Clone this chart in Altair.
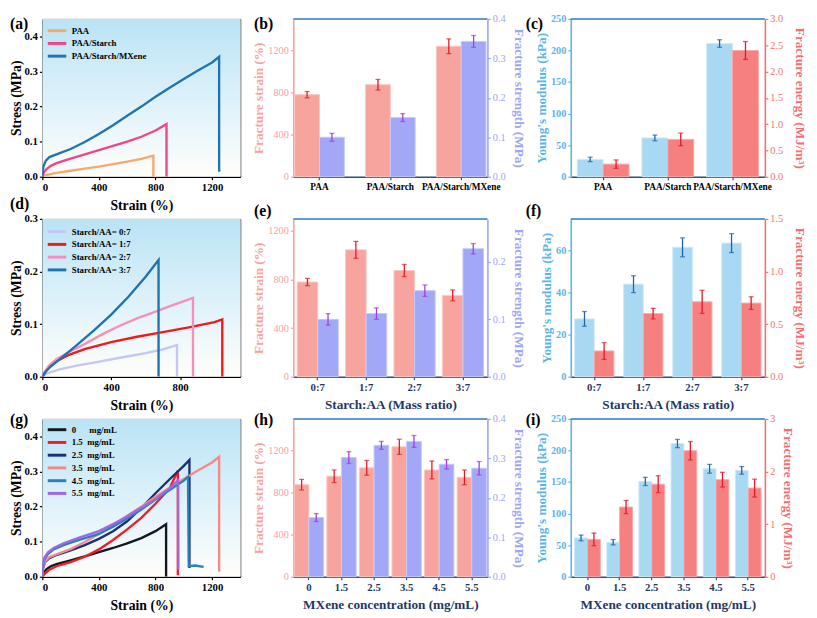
import altair as alt
import pandas as pd

SERIF = "Liberation Serif, Times New Roman, serif"

# ---------------- (a) stress-strain curves ----------------
A_NAMES = ["PAA", "PAA/Starch", "PAA/Starch/MXene"]
A_COLORS = ["#F5A96C", "#EF4688", "#2274B0"]
A_PAA_X = [0, 20, 50, 100, 200, 300, 400, 500, 600, 700, 785, 785]
A_PAA_Y = [0, 0.004, 0.007, 0.011, 0.017, 0.023, 0.029, 0.036, 0.043, 0.051, 0.06, 0]
A_ST_X = [0, 10, 30, 60, 100, 200, 300, 400, 500, 600, 700, 800, 878, 878]
A_ST_Y = [0, 0.012, 0.022, 0.031, 0.039, 0.052, 0.064, 0.076, 0.088, 0.1, 0.114, 0.132, 0.15, 0]
A_MX_X = [0, 8, 25, 50, 100, 200, 300, 400, 500, 600, 700, 800, 900, 1000, 1100, 1200, 1250, 1250, 1255]
A_MX_Y = [0, 0.03, 0.046, 0.056, 0.064, 0.079, 0.099, 0.122, 0.147, 0.174, 0.2, 0.228, 0.254, 0.279, 0.303, 0.326, 0.342, 0.018, 0.015]

# ---------------- (d) stress-strain curves ----------------
D_NAMES = ["Starch/AA= 0:7", "Starch/AA= 1:7", "Starch/AA= 2:7", "Starch/AA= 3:7"]
D_COLORS = ["#C3C7F4", "#F01A1A", "#F590BA", "#1F72B0"]
D_07_X = [0, 20, 50, 100, 200, 300, 400, 500, 600, 700, 782, 782]
D_07_Y = [0, 0.005, 0.009, 0.014, 0.021, 0.027, 0.033, 0.039, 0.045, 0.052, 0.06, 0]
D_17_X = [0, 15, 40, 80, 150, 250, 400, 550, 700, 850, 1000, 1045, 1045]
D_17_Y = [0, 0.008, 0.018, 0.029, 0.041, 0.053, 0.066, 0.076, 0.085, 0.094, 0.104, 0.109, 0]
D_27_X = [0, 15, 40, 80, 150, 250, 350, 450, 550, 650, 750, 875, 875]
D_27_Y = [0, 0.01, 0.022, 0.033, 0.046, 0.063, 0.081, 0.097, 0.111, 0.123, 0.135, 0.15, 0]
D_37_X = [0, 20, 50, 100, 200, 300, 400, 500, 600, 675, 675]
D_37_Y = [0, 0.01, 0.02, 0.033, 0.06, 0.088, 0.118, 0.152, 0.19, 0.222, 0]

# ---------------- (g) stress-strain curves ----------------
G_NAMES = ["0\u00a0\u00a0\u00a0\u00a0\u00a0\u00a0mg/mL", "1.5\u00a0\u00a0mg/mL", "2.5\u00a0\u00a0mg/mL",
           "3.5\u00a0\u00a0mg/mL", "4.5\u00a0\u00a0mg/mL", "5.5\u00a0\u00a0mg/mL"]
G_COLORS = ["#15161F", "#F21C24", "#1B2F7A", "#F28A8A", "#2A80BF", "#A066E8"]
G_00_X = [0, 10, 30, 60, 100, 200, 300, 400, 500, 600, 700, 800, 875, 875]
G_00_Y = [0, 0.012, 0.022, 0.03, 0.036, 0.047, 0.058, 0.07, 0.082, 0.095, 0.11, 0.13, 0.15, 0]
G_15_X = [0, 20, 50, 100, 200, 300, 400, 500, 600, 700, 800, 900, 958, 958]
G_15_Y = [0, 0.01, 0.02, 0.03, 0.042, 0.057, 0.078, 0.105, 0.135, 0.168, 0.208, 0.252, 0.302, 0.004]
G_25_X = [0, 5, 20, 50, 100, 200, 300, 400, 500, 600, 700, 800, 900, 1000, 1040, 1040]
G_25_Y = [0, 0.025, 0.042, 0.053, 0.062, 0.075, 0.09, 0.108, 0.13, 0.158, 0.196, 0.238, 0.278, 0.316, 0.333, 0.025]
G_35_X = [0, 8, 25, 50, 100, 200, 300, 400, 500, 600, 700, 800, 900, 1000, 1100, 1200, 1250, 1250, 1255]
G_35_Y = [0, 0.03, 0.046, 0.056, 0.064, 0.079, 0.099, 0.122, 0.147, 0.174, 0.2, 0.228, 0.254, 0.279, 0.303, 0.326, 0.342, 0.018, 0.015]
G_45_X = [0, 5, 15, 40, 80, 150, 250, 400, 500, 600, 700, 800, 900, 1000, 1030, 1035, 1080, 1140]
G_45_Y = [0, 0.03, 0.05, 0.065, 0.078, 0.09, 0.104, 0.122, 0.143, 0.166, 0.192, 0.22, 0.247, 0.274, 0.285, 0.03, 0.032, 0.028]
G_55_X = [0, 5, 15, 40, 80, 150, 250, 400, 500, 600, 700, 800, 900, 960, 962]
G_55_Y = [0, 0.035, 0.055, 0.07, 0.082, 0.095, 0.11, 0.13, 0.15, 0.172, 0.197, 0.222, 0.252, 0.275, 0.02]

# ---------------- bar panels ----------------
B_CATS = ["PAA", "PAA/Starch", "PAA/Starch/MXene"]
B_STRAIN = [780, 875, 1240]
B_STRAIN_ERR = [30, 50, 70]
B_STRENGTH = [0.1, 0.15, 0.343]
B_STRENGTH_ERR = [0.01, 0.01, 0.015]

C_MOD = [27.5, 61.5, 211]
C_MOD_ERR = [3.5, 4.5, 6]
C_EN = [0.24, 0.71, 2.4]
C_EN_ERR = [0.08, 0.12, 0.17]

E_CATS = ["0:7", "1:7", "2:7", "3:7"]
E_STRAIN = [780, 1045, 875, 670]
E_STRAIN_ERR = [30, 70, 50, 45]
E_STRENGTH = [0.1, 0.11, 0.15, 0.223]
E_STRENGTH_ERR = [0.01, 0.01, 0.01, 0.009]

F_MOD = [27.5, 44, 61.5, 63.5]
F_MOD_ERR = [3.5, 4, 4.5, 4.5]
F_EN = [0.245, 0.6, 0.712, 0.70]
F_EN_ERR = [0.08, 0.05, 0.11, 0.06]

H_CATS = ["0", "1.5", "2.5", "3.5", "4.5", "5.5"]
H_STRAIN = [875, 955, 1035, 1235, 1015, 945]
H_STRAIN_ERR = [50, 60, 70, 72, 85, 70]
H_STRENGTH = [0.15, 0.302, 0.333, 0.343, 0.285, 0.275]
H_STRENGTH_ERR = [0.01, 0.015, 0.01, 0.015, 0.012, 0.017]

I_MOD = [61.5, 54.7, 151, 211, 171, 168.5]
I_MOD_ERR = [4.5, 4.2, 6.5, 6.5, 7, 6]
I_EN = [0.71, 1.325, 1.76, 2.395, 1.845, 1.685]
I_EN_ERR = [0.12, 0.125, 0.16, 0.175, 0.14, 0.17]

# colours
STRAIN_FILL, STRAIN_STROKE, STRAIN_ERRC, STRAIN_AX = "#F7A39E", "#FBC8C4", "#E01B24", "#F5A39E"
STREN_FILL, STREN_STROKE, STREN_ERRC, STREN_AX = "#A2A7F6", "#C6C9FA", "#A43BDB", "#9CA6F2"
MOD_FILL, MOD_STROKE, MOD_ERRC, MOD_AX = "#A8D8F2", "#CFEAF8", "#1B65A8", "#5BB6E6"
EN_FILL, EN_STROKE, EN_ERRC, EN_AX = "#F67F80", "#F9AAAA", "#E3162A", "#F46F72"
NAVY = "#1F3864"
TOPBLUE = "#2E7BBF"

W1, W2, W3 = 202, 198, 198
H = 161

GRAD = alt.LinearGradient(
    gradient="linear",
    stops=[alt.GradientStop(color="#BAE3F4", offset=0),
           alt.GradientStop(color="#DDF1FA", offset=0.5),
           alt.GradientStop(color="#FFFEFA", offset=1)],
    x1=0, x2=0, y1=0, y2=1,
)


def panel_label(txt, dx, dy):
    return alt.Chart(pd.DataFrame({"t": [txt]})).mark_text(
        align="left", baseline="middle", font=SERIF, fontWeight="bold",
        fontSize=16, color="black"
    ).encode(x=alt.value(dx), y=alt.value(dy), text="t:N")


def line_panel(names, colors, xs_list, ys_list, xmax, xticks, ymax, yticks, label, ldy, legy, width):
    rows = []
    for n, xs, ys in zip(names, xs_list, ys_list):
        for i, (x, y) in enumerate(zip(xs, ys)):
            rows.append({"name": n, "x": x, "y": y, "i": i})
    df = pd.DataFrame(rows)
    xsc = alt.Scale(domain=[0, xmax], nice=False, zero=False)
    ysc = alt.Scale(domain=[0, ymax], nice=False)
    common = dict(labelFont=SERIF, labelFontWeight="bold", labelFontSize=11, labelColor="black",
                  titleFont=SERIF, titleFontWeight="bold", titleFontSize=14, titleColor="black",
                  domainColor="black", domainWidth=1.5, tickColor="black", tickSize=3,
                  tickWidth=1.2, labelPadding=2, grid=False)
    xax = alt.Axis(values=xticks, format="d", title="Strain (%)", titlePadding=6, **common)
    yax = alt.Axis(values=yticks, format=".1f", title="Stress (MPa)", titlePadding=1, **common)
    bg = alt.Chart(pd.DataFrame({"a": [0]})).mark_rect(fill=GRAD).encode(
        x=alt.XDatum(0, type="quantitative", scale=xsc, axis=xax),
        x2=alt.X2Datum(xmax),
        y=alt.YDatum(0, type="quantitative", scale=ysc, axis=yax),
        y2=alt.Y2Datum(ymax),
    )
    leg = alt.Legend(orient="none", legendX=8, legendY=legy, title=None, padding=0,
                     labelFont=SERIF, labelFontWeight="bold", labelFontSize=9, labelColor="black",
                     symbolType="M-1.8,0L1.8,0", symbolStrokeWidth=3, symbolSize=110, rowPadding=0,
                     labelOffset=8)
    lines = alt.Chart(df).mark_line(strokeWidth=2.4, clip=True).encode(
        x=alt.X("x:Q", scale=xsc, axis=xax),
        y=alt.Y("y:Q", scale=ysc, axis=yax),
        color=alt.Color("name:N", scale=alt.Scale(domain=names, range=colors), legend=leg,
                        sort=names),
        order="i:Q",
    )
    return alt.layer(bg, lines, panel_label(label, -33, ldy)).properties(
        width=width, height=H, view=alt.ViewBackground(stroke="#555555", strokeWidth=1))


def bar_series(cats, vals, errs, tag, X, XO, fill, stroke, errc, dom, ticks, fmt, orient,
               axcolor, title, bold, tpad, top_rule=False):
    df = pd.DataFrame({"cat": cats, "v": vals,
                       "lo": [v - e for v, e in zip(vals, errs)],
                       "hi": [v + e for v, e in zip(vals, errs)], "s": tag})
    ysc = alt.Scale(domain=dom, nice=False)
    yax = alt.Axis(orient=orient, values=ticks, format=fmt, title=title, grid=False,
                   labelFont=SERIF, labelFontWeight="bold" if bold else "normal", labelFontSize=10.5,
                   labelColor=axcolor, titleFont=SERIF, titleFontWeight="bold", titleFontSize=13.5,
                   titleColor=axcolor, domainColor=axcolor, domainWidth=1.6, tickColor=axcolor,
                   tickSize=3, tickWidth=1.2, labelPadding=2, titlePadding=tpad)
    base = alt.Chart(df)
    bars = base.mark_bar(fill=fill, stroke=stroke, strokeWidth=1).encode(
        x=X, xOffset=XO, y=alt.Y("v:Q", scale=ysc, axis=yax))
    rule = base.mark_rule(color=errc, strokeWidth=1.3).encode(
        x=X, xOffset=XO, y=alt.Y("lo:Q", scale=ysc, axis=yax), y2="hi:Q")
    tlo = base.mark_tick(color=errc, size=5, thickness=1.3, orient="horizontal").encode(
        x=X, xOffset=XO, y=alt.Y("lo:Q", scale=ysc, axis=yax))
    thi = base.mark_tick(color=errc, size=5, thickness=1.3, orient="horizontal").encode(
        x=X, xOffset=XO, y=alt.Y("hi:Q", scale=ysc, axis=yax))
    layers = [bars, rule, tlo, thi]
    if top_rule:
        top = alt.Chart(pd.DataFrame({"a": [0]})).mark_rule(color=TOPBLUE, strokeWidth=1.5).encode(
            y=alt.YDatum(dom[1], type="quantitative", scale=ysc, axis=yax))
        layers.append(top)
    return alt.layer(*layers)


def bar_panel(cats, left, right, pin, pout, xtitle, xlabcolor, label, ldx, ldy, width):
    xax = alt.Axis(title=xtitle, labelAngle=0, labelFont=SERIF, labelFontWeight="bold",
                   labelFontSize=9.5 if xlabcolor == "black" else 11, labelColor=xlabcolor,
                   titleFont=SERIF, titleFontWeight="bold", titleFontSize=13.5, titleColor=NAVY,
                   domainColor="#2B4F7E", domainWidth=1.6, tickColor="#2B4F7E", tickSize=3,
                   tickWidth=1.2, labelPadding=2, titlePadding=5, grid=False)
    X = alt.X("cat:N", sort=cats, scale=alt.Scale(paddingInner=pin, paddingOuter=pout), axis=xax)
    XO = alt.XOffset("s:N", scale=alt.Scale(domain=["L", "R"]))
    lft = bar_series(cats, *left[:2], "L", X, XO, *left[2:], top_rule=True)
    rgt = bar_series(cats, *right[:2], "R", X, XO, *right[2:])
    return alt.layer(lft, rgt, panel_label(label, ldx, ldy)).resolve_scale(y="independent").properties(
        width=width, height=H, view=alt.ViewBackground(stroke=None))


def strain_strength(cats, sv, se, tv, te, sdom, tdom, tticks):
    left = [sv, se, STRAIN_FILL, STRAIN_STROKE, STRAIN_ERRC, sdom, [0, 400, 800, 1200], "d", "left",
            STRAIN_AX, "Fracture strain (%)", False, 2]
    right = [tv, te, STREN_FILL, STREN_STROKE, STREN_ERRC, tdom, tticks, ".1f", "right",
             STREN_AX, "Fracture strength (MPa)", False, 6]
    return left, right


def mod_energy(mv, me, ev, ee, mdom, mticks, edom, eticks, efmt, etpad):
    left = [mv, me, MOD_FILL, MOD_STROKE, MOD_ERRC, mdom, mticks, "d", "left",
            MOD_AX, "Young's modulus (kPa)", True, 2]
    right = [ev, ee, EN_FILL, EN_STROKE, EN_ERRC, edom, eticks, efmt, "right",
             EN_AX, "Fracture energy (MJ/m\u00b3)", False, etpad]
    return left, right


pa = line_panel(A_NAMES, A_COLORS, [A_PAA_X, A_ST_X, A_MX_X], [A_PAA_Y, A_ST_Y, A_MX_Y],
                1400, [0, 400, 800, 1200], 0.45, [0, 0.1, 0.2, 0.3, 0.4], "(a)", 5, 5, W1)
l, r = strain_strength(B_CATS, B_STRAIN, B_STRAIN_ERR, B_STRENGTH, B_STRENGTH_ERR,
                       [0, 1500], [0, 0.4], [0, 0.1, 0.2, 0.3, 0.4])
pb = bar_panel(B_CATS, l, r, 0.3, 0.02, None, "black", "(b)", -40, 5, W2)
l, r = mod_energy(C_MOD, C_MOD_ERR, C_EN, C_EN_ERR, [0, 250], [0, 50, 100, 150, 200, 250],
                  [0, 3], [0, 0.5, 1.0, 1.5, 2.0, 2.5, 3.0], ".1f", 10)
pc = bar_panel(B_CATS, l, r, 0.2, 0.1, None, "black", "(c)", -46, 5, W3)

pd_ = line_panel(D_NAMES, D_COLORS, [D_07_X, D_17_X, D_27_X, D_37_X], [D_07_Y, D_17_Y, D_27_Y, D_37_Y],
                 1150, [0, 400, 800], 0.3, [0, 0.1, 0.2, 0.3], "(d)", -15, 6, W1)
l, r = strain_strength(E_CATS, E_STRAIN, E_STRAIN_ERR, E_STRENGTH, E_STRENGTH_ERR,
                       [0, 1300], [0, 0.275], [0, 0.1, 0.2])
pe = bar_panel(E_CATS, l, r, 0.15, 0.08, "Starch:AA (Mass ratio)", NAVY, "(e)", -40, -8, W2)
l, r = mod_energy(F_MOD, F_MOD_ERR, F_EN, F_EN_ERR, [0, 75], [0, 20, 40, 60],
                  [0, 1.5], [0, 0.5, 1.0, 1.5], ".1f", 10)
pf = bar_panel(E_CATS, l, r, 0.2, 0.08, "Starch:AA (Mass ratio)", NAVY, "(f)", -46, -8, W3)

pg = line_panel(G_NAMES, G_COLORS, [G_00_X, G_15_X, G_25_X, G_35_X, G_45_X, G_55_X],
                [G_00_Y, G_15_Y, G_25_Y, G_35_Y, G_45_Y, G_55_Y],
                1400, [0, 400, 800, 1200], 0.45, [0, 0.1, 0.2, 0.3, 0.4], "(g)", 1, 4, W1)
l, r = strain_strength(H_CATS, H_STRAIN, H_STRAIN_ERR, H_STRENGTH, H_STRENGTH_ERR,
                       [0, 1500], [0, 0.4], [0, 0.1, 0.2, 0.3, 0.4])
ph = bar_panel(H_CATS, l, r, 0.1, 0.03, "MXene concentration (mg/mL)", NAVY, "(h)", -40, 1, W2)
l, r = mod_energy(I_MOD, I_MOD_ERR, I_EN, I_EN_ERR, [0, 250], [0, 50, 100, 150, 200, 250],
                  [0, 3], [0, 1, 2, 3], "d", 6)
pi = bar_panel(H_CATS, l, r, 0.2, 0.12, "MXene concentration (mg/mL)", NAVY, "(i)", -46, 1, W3)


def spacer(w):
    return alt.Chart(pd.DataFrame({"a": [0]})).mark_point(opacity=0, size=1).encode(
        x=alt.value(0), y=alt.value(20)).properties(width=w, height=H, view=alt.ViewBackground(stroke=None))


cells = [pa, spacer(54), pb, spacer(85), pc,
         pd_, spacer(54), pe, spacer(85), pf,
         pg, spacer(54), ph, spacer(85), pi]

chart = alt.concat(*cells, columns=5, spacing={"row": 43, "column": 0}, bounds="flush", align="each",
                   padding={"left": 0, "top": 0, "right": 2, "bottom": 2}).resolve_scale(
    color="independent", xOffset="independent").configure(
    font=SERIF, background="white").configure_view(stroke=None)

chart.save("out.html", embed_options={"renderer": "svg", "actions": False})
